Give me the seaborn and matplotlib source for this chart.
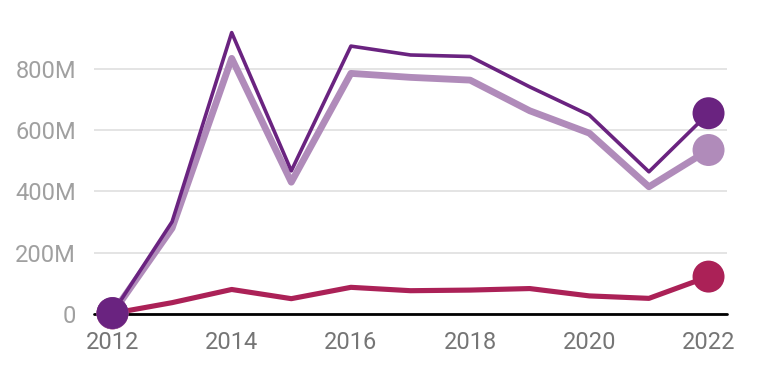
import matplotlib
matplotlib.use("Agg")
import matplotlib.pyplot as plt
from matplotlib.ticker import FuncFormatter
import pandas as pd
import seaborn as sns

# Data (values in millions)
years = [2012, 2013, 2014, 2015, 2016, 2017, 2018, 2019, 2020, 2021, 2022]
dark_vals = [3, 301, 918, 467, 874, 845, 840, 741, 649, 464, 655]
light_vals = [2, 280, 834, 430, 785, 772, 763, 663, 590, 415, 535]
red_vals = [2, 37, 80, 50, 87, 76, 78, 83, 59, 51, 122]

y_ticks = [0, 200, 400, 600, 800]

sns.set_style("white")
plt.rcParams['font.family'] = ['Roboto', 'DejaVu Sans']

fig = plt.figure(figsize=(7.6, 3.8), dpi=100)
ax = fig.add_axes([0.1237, 0.1737, 0.8329, 0.7663])

# series drawn bottom to top: red, light purple, dark purple
series = [
    (red_vals, '#ab2157', 3.7),
    (light_vals, '#b08bba', 4.9),
    (dark_vals, '#6a2380', 2.6),
]

for vals, color, lw in series:
    df = pd.DataFrame({'year': years, 'value': vals})
    sns.lineplot(data=df, x='year', y='value', color=color, linewidth=lw,
                 ax=ax, zorder=3)
    ends = df.iloc[[0, -1]]
    sns.scatterplot(data=ends, x='year', y='value', color=color, s=530,
                    edgecolor='none', ax=ax, zorder=4, clip_on=False)

ax.set_xlim(2011.69, 2022.31)
ax.set_ylim(0, 950)
ax.set_xticks([2012, 2014, 2016, 2018, 2020, 2022])
ax.set_yticks(y_ticks)
ax.yaxis.set_major_formatter(FuncFormatter(lambda v, p: '0' if v == 0 else f'{int(v)}M'))

# grid lines, zero baseline
ax.grid(True, axis='y', color='#e2e2e2', linewidth=1.3)
ax.grid(False, axis='x')
ax.axhline(0, color='#000000', linewidth=2.0, zorder=2.5, clip_on=False)
for s in ax.spines.values():
    s.set_visible(False)

ax.tick_params(axis='y', length=0, pad=13, labelsize=17, labelcolor='#a0a0a0')
ax.tick_params(axis='x', length=0, pad=12, labelsize=17, labelcolor='#757575')
ax.set_xlabel('')
ax.set_ylabel('')

fig.savefig('out.png', dpi=100)
